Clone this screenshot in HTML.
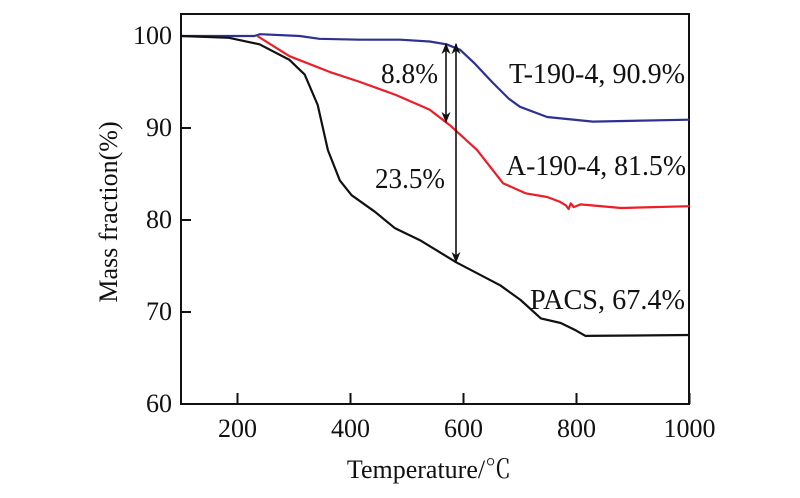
<!DOCTYPE html>
<html><head><meta charset="utf-8"><style>
body{margin:0;background:#fff;}
svg text{font-family:"Liberation Serif","Noto Serif CJK SC",serif;fill:#111;}
</style></head><body>
<svg id="chart" width="800" height="493" viewBox="0 0 800 493">
<defs><marker id="ah" viewBox="0 0 10 10" refX="9" refY="5" markerWidth="7" markerHeight="9" orient="auto-start-reverse"><path d="M0,1 L10,5 L0,9 L3,5 Z" fill="#111"/></marker></defs>
<g id="plot"></g>
</svg>
<script>
const xTicks=[200,400,600,800,1000];
const yTicks=[60,70,80,90,100];
const pacsT=[100,185,239,292,319,342,360,381,402,443,479,523,587,665,701,737,772,799,816,1000];
const pacsM=[100,99.8,99.1,97.4,95.8,92.5,87.6,84.3,82.7,80.9,79.1,77.8,75.4,72.9,71.3,69.3,68.8,68.0,67.4,67.5];
const aT=[235,292,363,417,480,540,576,624,670,710,748,770,781,786,790,795,807,879,1000];
const aM=[100,97.8,96.1,95.0,93.6,92.0,90.3,87.6,84.0,82.9,82.5,82.0,81.6,81.2,81.8,81.4,81.7,81.3,81.5];
const tT=[100,230,240,310,345,416,488,540,570,594,620,652,680,700,748,829,1000];
const tM=[100,100,100.2,100,99.7,99.6,99.6,99.4,99.1,98.5,97.0,94.9,93.2,92.3,91.2,90.7,90.9];
const L=181,R=689,T0=14,B=404;
const xs=v=>L+(v-100)*0.565;
const ys=v=>36+(100-v)*9.2;
const g=document.getElementById('plot');
const NS='http://www.w3.org/2000/svg';
function mk(tag,attrs){const e=document.createElementNS(NS,tag);for(const k in attrs)e.setAttribute(k,attrs[k]);g.appendChild(e);return e;}
let f=mk('rect',{x:L,y:T0,width:R-L,height:B-T0,fill:'none',stroke:'#111','stroke-width':2});


xTicks.forEach(v=>{
 let t=mk('line',{x1:xs(v),x2:xs(v),y1:B,y2:B-11,stroke:'#111','stroke-width':2});
 
 
 let l=mk('text',{x:xs(v),y:437,'text-anchor':'middle','font-size':26});l.textContent=v;
 
 
});
yTicks.forEach(v=>{
 let t=mk('line',{x1:L,x2:L+10,y1:ys(v),y2:ys(v),stroke:'#111','stroke-width':2});
 
 
 let l=mk('text',{x:172,y:ys(v)+8,'text-anchor':'end','font-size':26});l.textContent=v;
 
 
});
function series(X,Y,c,name){
 let d=X.map((v,i)=>(i?'L':'M')+xs(v).toFixed(1)+','+ys(Y[i]).toFixed(1)).join(' ');
 let p=mk('path',{d:d,fill:'none',stroke:c,'stroke-width':2.2,'stroke-linejoin':'round'});
 
 
}
series(tT,tM,'#2e3192','line-t-190-4');
series(aT,aM,'#ee1c24','line-a-190-4');
series(pacsT,pacsM,'#111','line-pacs');
let a1=mk('line',{x1:446,x2:446,y1:44,y2:122,stroke:'#111','stroke-width':1.6,'marker-start':'url(#ah)','marker-end':'url(#ah)'});


let a2=mk('line',{x1:456,x2:456,y1:44,y2:262,stroke:'#111','stroke-width':1.6,'marker-start':'url(#ah)','marker-end':'url(#ah)'});


const labels=[['8.8%',381,83,57,'label-8-8'],['23.5%',375,188,70,'label-23-5'],['T-190-4, 90.9%',509,83,176,'label-t-190-4'],['A-190-4, 81.5%',506,175,180,'label-a-190-4'],['PACS, 67.4%',530,309,155,'label-pacs']];
labels.forEach(s=>{let t=mk('text',{x:s[1],y:s[2],'font-size':28,textLength:s[3],lengthAdjust:'spacingAndGlyphs'});t.textContent=s[0];
 
 });
let xt=mk('text',{x:429,y:478,'text-anchor':'middle','font-size':26});xt.textContent='Temperature/℃';


let yt=mk('text',{x:0,y:0,'text-anchor':'middle','font-size':26,transform:'translate(117,212) rotate(-90)'});yt.textContent='Mass fraction(%)';


</script>
</body></html>
